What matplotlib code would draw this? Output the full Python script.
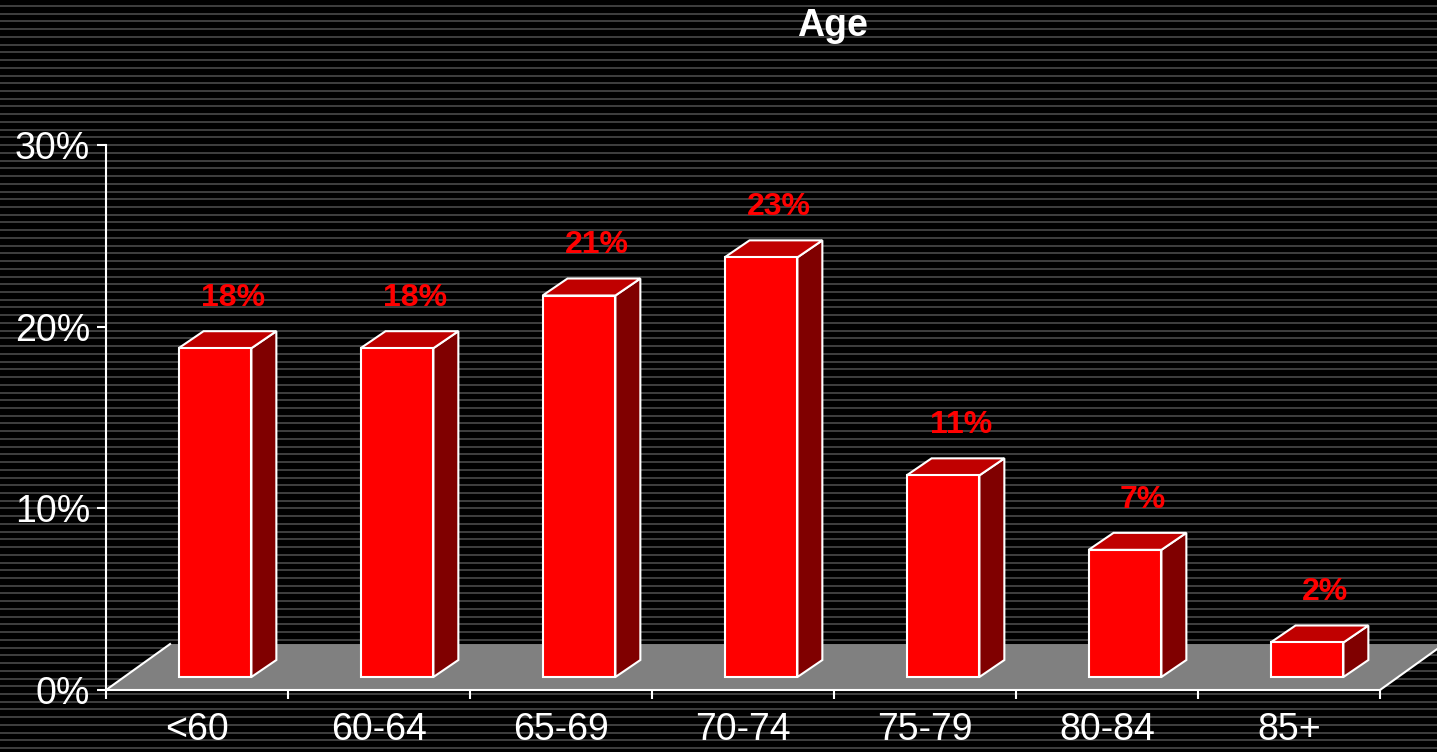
import matplotlib
matplotlib.use('Agg')
import matplotlib.pyplot as plt
from matplotlib.patches import Polygon
import numpy as np

plt.rcParams['font.family'] = ['Liberation Sans', 'DejaVu Sans']

categories = ['<60', '60-64', '65-69', '70-74', '75-79', '80-84', '85+']
values = [18.1, 18.1, 21.0, 23.1, 11.1, 7.0, 1.9]
yticks = [0, 10, 20, 30]
ytick_labels = ['0%', '10%', '20%', '30%']

fig = plt.figure(figsize=(14.37, 7.52), dpi=100)
fig.patch.set_facecolor('black')

# striped background
bg = fig.add_axes([0, 0, 1, 1], zorder=0)
bg.set_xlim(0, 1)
bg.set_ylim(752, 0)
bg.hlines(np.arange(6, 752, 7.73), 0, 1, color='#444444', lw=1.3)
bg.axis('off')

ax = fig.add_axes([106/1437, 62/752, 1274/1437, 545/752], zorder=1)
ax.patch.set_alpha(0)
ax.set_xlim(-0.5, 6.5)
ax.set_ylim(0, 30)

# 3d floor
fdx, fdy = 0.352, 2.53
floor = Polygon([(-0.5, 0), (6.5, 0), (6.5 + fdx, fdy), (-0.5 + fdx, fdy)],
                facecolor='#808080', edgecolor='none', clip_on=False, zorder=1)
ax.add_patch(floor)
ax.plot([-0.5, -0.5 + fdx], [0, fdy], color='white', lw=1.5, clip_on=False, zorder=2)
ax.plot([6.5, 6.5 + fdx], [0, fdy], color='white', lw=1.5, clip_on=False, zorder=2)

# bars
ox, oy = 0.099, 0.715
hw = 0.2
bdx, bdy = 0.137, 0.936
for i, v in enumerate(values):
    x0, x1 = i - hw + ox, i + hw + ox
    y0, y1 = oy, oy + v
    front = [(x0, y0), (x1, y0), (x1, y1), (x0, y1)]
    top = [(x0, y1), (x1, y1), (x1 + bdx, y1 + bdy), (x0 + bdx, y1 + bdy)]
    side = [(x1, y0), (x1 + bdx, y0 + bdy), (x1 + bdx, y1 + bdy), (x1, y1)]
    for pts, c in [(side, '#800000'), (top, '#c00000'), (front, '#ff0000')]:
        ax.add_patch(Polygon(pts, facecolor=c, edgecolor='white', lw=1.5,
                             joinstyle='miter', clip_on=False, zorder=3))
    ax.text(i + ox + 0.1, y1 + bdy + 1.0, f'{round(v)}%', ha='center', va='bottom',
            color='#ff0000', fontsize=23, fontweight='bold', zorder=4)

for s in ['top', 'right']:
    ax.spines[s].set_visible(False)
for s in ['left', 'bottom']:
    ax.spines[s].set_color('white')
    ax.spines[s].set_linewidth(1.5)
    ax.spines[s].set_zorder(5)

ax.set_yticks(yticks, ytick_labels)
ax.tick_params(axis='y', colors='white', labelsize=27, length=6.5, width=1.5, pad=5)
ax.set_xticks(range(len(categories)), categories)
ax.tick_params(axis='x', which='major', colors='white', labelsize=27, length=0, pad=16)
ax.set_xticks(np.arange(-0.5, len(categories), 1), minor=True)
ax.tick_params(axis='x', which='minor', color='white', length=6.5, width=1.5)

fig.text(832/1437, 1 - 26/752, 'Age', ha='center', va='center', color='white',
         fontsize=27, fontweight='bold')

fig.savefig('out.png', dpi=100, facecolor='black')
